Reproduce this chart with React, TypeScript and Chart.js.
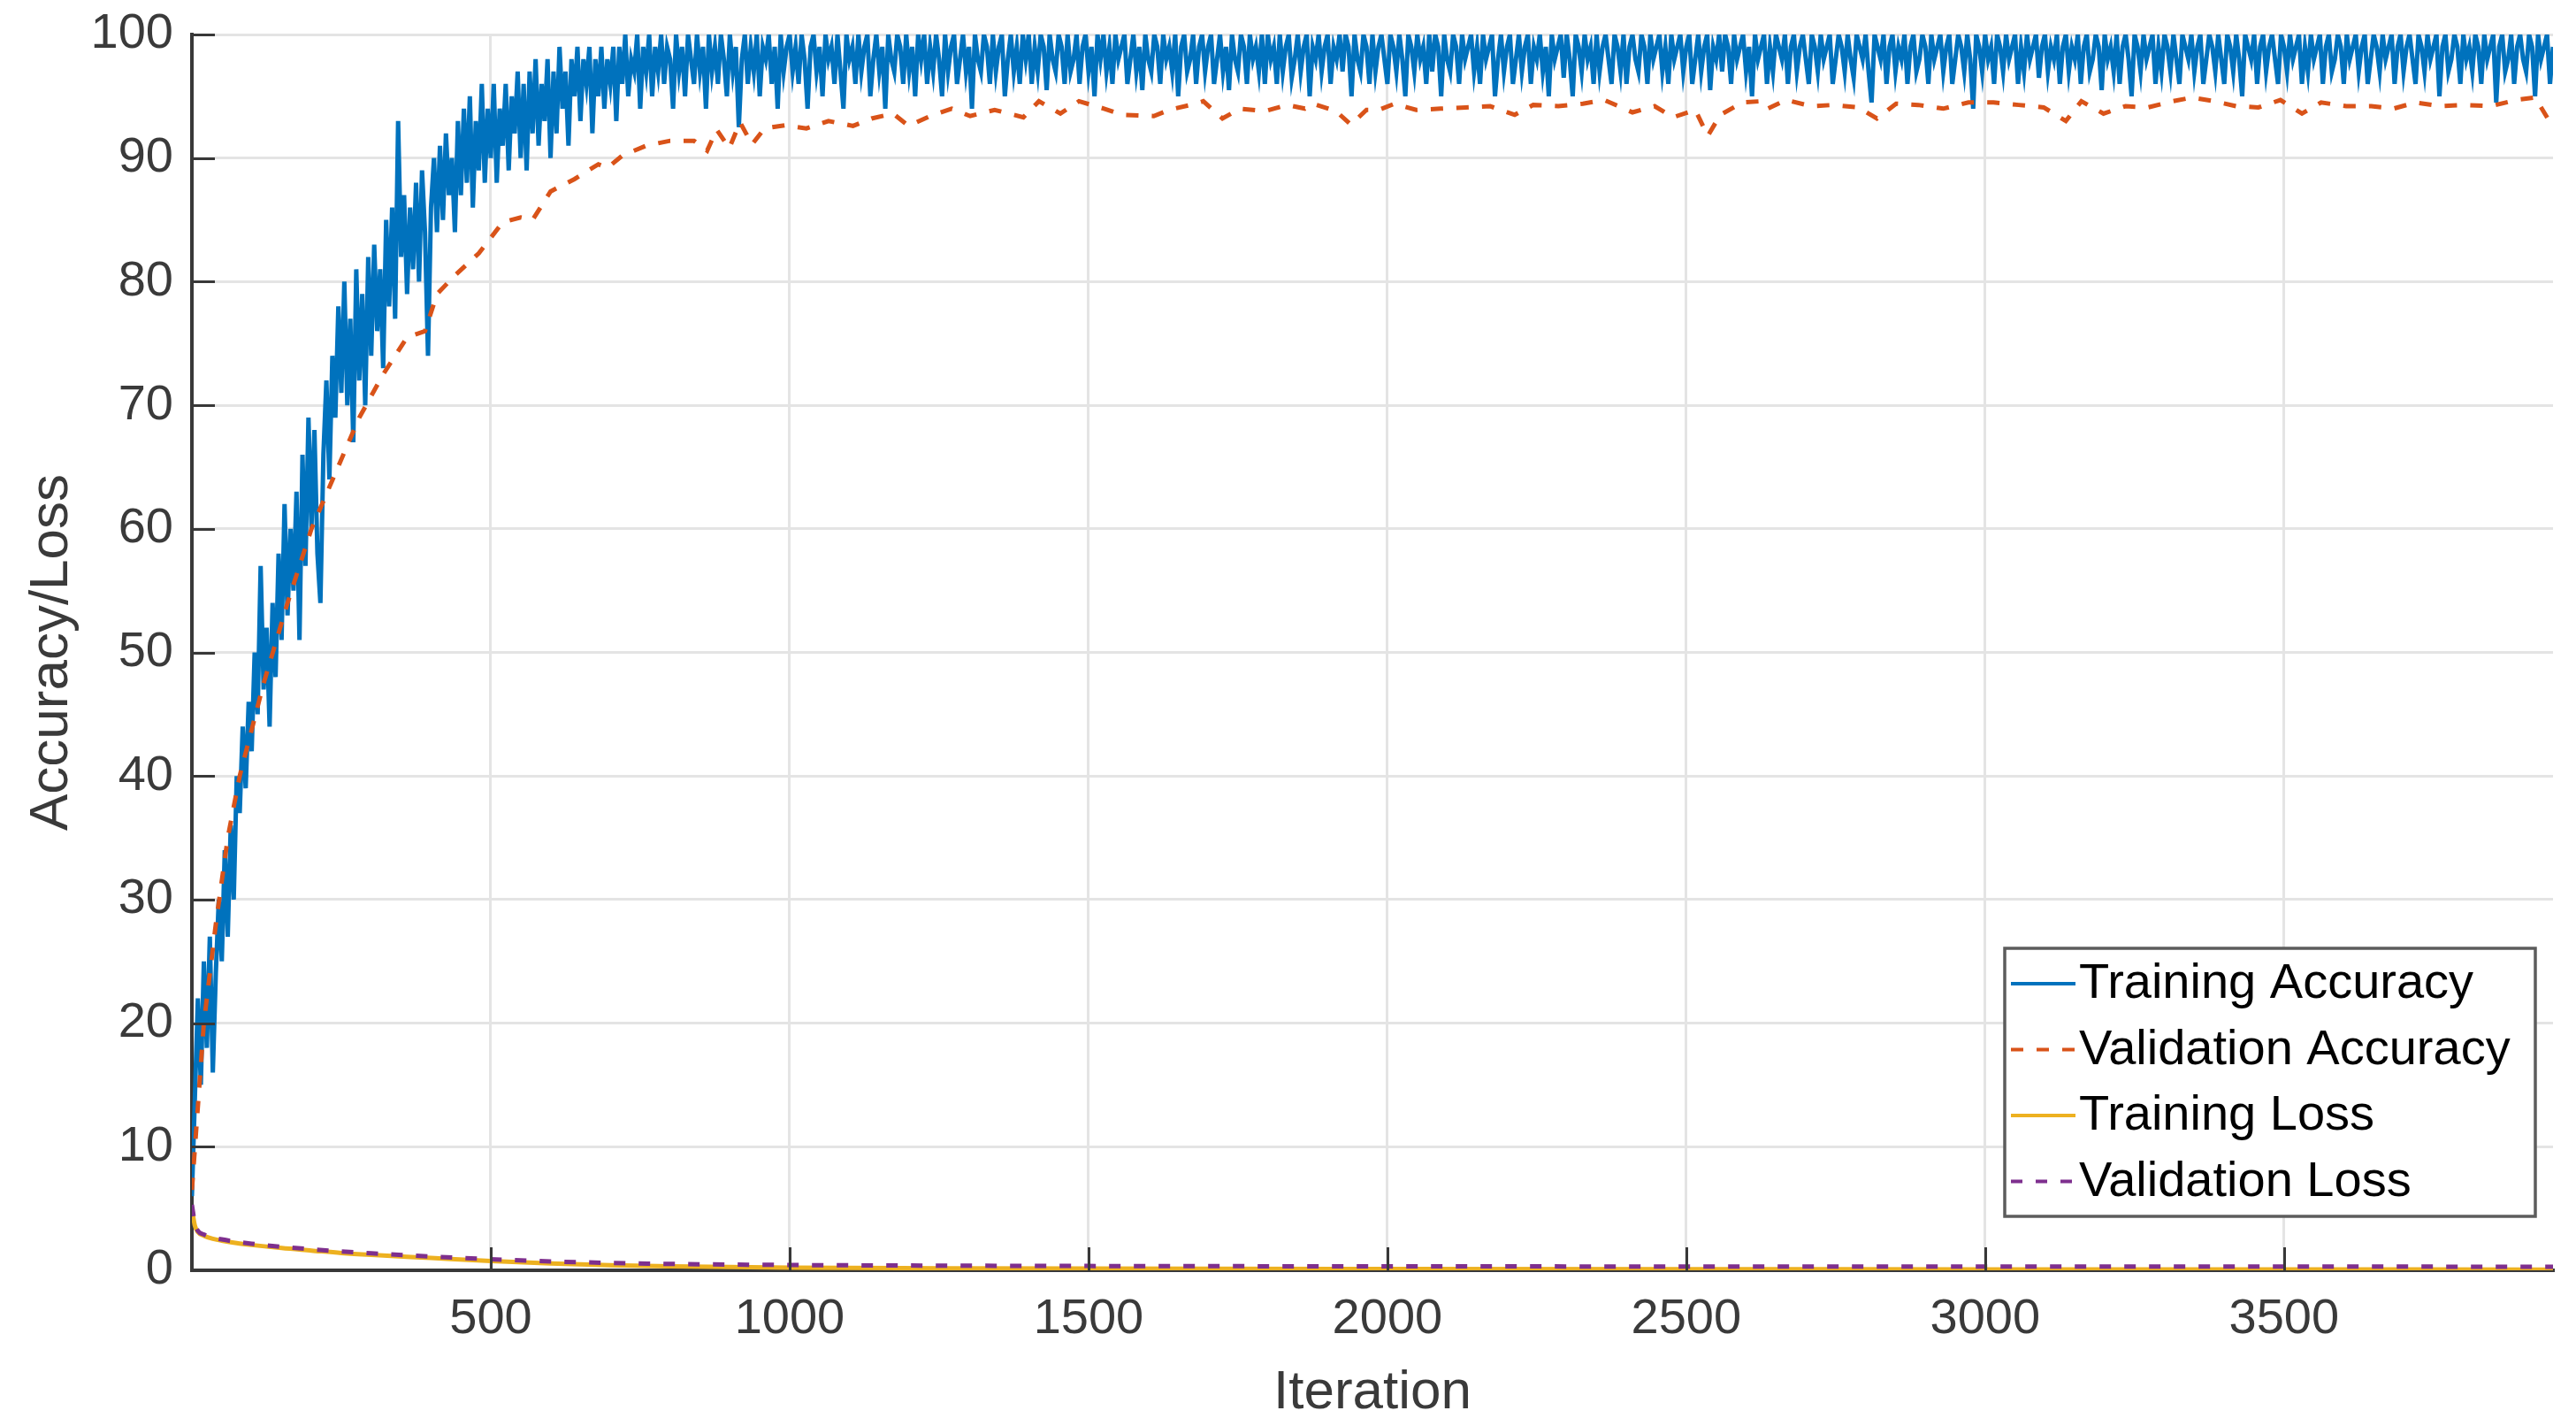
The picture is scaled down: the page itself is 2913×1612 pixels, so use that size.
import React, { useEffect, useRef } from 'react';
import { Chart, registerables } from 'chart.js';

Chart.register(...registerables);

// ---------------- data ----------------
const TRAIN_STEP = 5; // training accuracy sampled every 5 iterations
const trainAccuracy = [
  // 0 - 995
  6, 14, 22, 15, 25, 18, 27, 16, 24, 30, 25, 34, 27, 36, 30, 40, 37, 44, 39, 46,
  42, 50, 45, 57, 47, 52, 44, 54, 48, 58, 51, 62, 53, 60, 55, 63, 51, 66, 57, 69,
  60, 68, 58, 54, 66, 72, 64, 74, 69, 78, 71, 80, 70, 77, 67, 81, 72, 79, 70, 82,
  74, 83, 76, 81, 73, 85, 78, 86, 77, 93, 82, 87, 79, 86, 81, 88, 80, 89, 84, 74,
  86, 90, 84, 91, 85, 92, 87, 90, 84, 93, 87, 94, 88, 95, 86, 93, 89, 96, 88, 94,
  90, 96, 88, 94, 91, 96, 89, 95, 92, 97, 90, 96, 89, 97, 92, 98, 91, 96, 93, 98,
  90, 97, 92, 99, 94, 97, 91, 98, 95, 99, 93, 98, 96, 99, 92, 98, 95, 99, 94, 98,
  96, 99, 93, 99, 96, 100, 95, 98, 97, 100, 94, 99, 97, 100, 95, 99, 97, 100, 96, 99,
  98, 94, 100, 97, 99, 95, 100, 98, 96, 100, 97, 99, 94, 100, 97, 99, 96, 100, 98, 95,
  100, 97, 99, 92.5, 98, 100, 96, 99, 97, 100, 95, 99, 98, 100, 96, 99, 94, 100, 97, 99,
  // 1000 - 1995
  100, 97, 99, 96, 100, 98, 94, 99, 100, 97, 99, 95, 100, 98, 99, 96, 100, 97, 94, 100,
  98, 99, 96, 100, 97, 99, 100, 95, 98, 100, 97, 99, 94, 100, 98, 97, 100, 99, 96, 100,
  97, 99, 95, 100, 98, 100, 96, 99, 97, 100, 98, 95, 100, 97, 99, 100, 96, 98, 100, 97,
  99, 94, 100, 98, 97, 100, 99, 96, 100, 97, 99, 100, 95, 98, 100, 97, 99, 96, 100, 98,
  100, 96, 99, 97, 100, 99, 95.5, 100, 98, 97, 100, 99, 96, 100, 97, 98, 100, 96, 99, 100,
  97, 99, 95, 100, 98, 100, 97, 99, 96, 100, 98, 99, 100, 96, 98, 100, 97, 99, 95.5, 100,
  98, 97, 100, 99, 96, 100, 98, 99, 97, 100, 95, 99, 100, 97, 98, 100, 96, 99, 100, 97,
  99, 100, 96, 98, 100, 97, 99, 95.5, 100, 98, 97, 100, 99, 96, 100, 98, 99, 97, 100, 96,
  100, 98, 99, 96, 100, 97, 99, 100, 96.5, 98, 100, 97, 99, 100, 95, 99, 98, 100, 97, 99,
  100, 96, 99, 98, 100, 97, 100, 99, 95, 100, 98, 97, 100, 99, 96, 100, 97, 99, 100, 98,
  // 2000 - 2995
  96, 100, 99, 97, 100, 98, 95, 100, 99, 97, 100, 98, 99, 96, 100, 97, 100, 99, 95, 100,
  98, 97, 100, 99, 96, 100, 98, 99, 100, 97, 99, 96, 100, 98, 99, 100, 95, 98, 100, 97,
  99, 100, 96, 98, 100, 97, 99, 100, 96, 99, 98, 100, 97, 99, 95, 100, 98, 99, 100, 96.5,
  100, 98, 95, 100, 99, 97, 100, 98, 99, 96, 100, 97, 99, 100, 98, 96, 100, 99, 97, 100,
  96, 99, 100, 98, 97, 100, 99, 96, 100, 98, 99, 100, 97, 99, 96, 100, 98, 99, 100, 97,
  99, 100, 96, 98, 100, 97, 99, 100, 95.5, 99, 98, 100, 97, 100, 99, 96, 100, 98, 99, 100,
  97, 99, 95, 100, 98, 99, 100, 96, 99, 97, 100, 99, 98, 100, 96, 99, 100, 97, 99, 100,
  98, 96, 100, 99, 97, 100, 98, 99, 100, 96, 98, 100, 99, 97, 100, 98, 96.5, 100, 99, 98,
  100, 97, 94.5, 100, 99, 98, 100, 96, 99, 100, 97, 99, 98, 100, 96, 99, 100, 97, 98, 100,
  99, 96, 100, 98, 99, 100, 97, 99, 100, 96, 98, 100, 99, 97, 100, 98, 94, 100, 99, 97,
  // 3000 - 3950
  100, 98, 99, 96, 100, 99, 97, 100, 98, 99, 100, 96, 99, 97, 100, 98, 99, 100, 96.5, 99,
  100, 97, 99, 98, 100, 96, 99, 100, 97, 99, 98, 100, 96, 99, 100, 97, 98, 100, 99, 95.5,
  100, 98, 99, 97, 100, 96, 99, 100, 98, 95, 100, 99, 97, 100, 98, 99, 100, 96, 99, 97,
  100, 99, 97, 100, 98, 96, 100, 99, 98, 100, 97, 99, 100, 96, 98, 100, 99, 97, 100, 98,
  96, 100, 99, 97, 100, 98, 95, 100, 99, 98, 100, 96, 99, 100, 97, 99, 100, 98, 96, 100,
  99, 97, 100, 98, 99, 100, 96, 99, 97, 100, 98, 99, 100, 96, 99, 100, 97, 98, 100, 99,
  96, 100, 98, 99, 100, 97, 99, 100, 96, 98, 100, 99, 97, 100, 98, 99, 100, 96, 99, 100,
  97, 99, 100, 98, 96, 100, 99, 97, 100, 98, 99, 100, 95, 99, 100, 97, 98, 100, 99, 96,
  100, 98, 99, 97, 100, 99, 96, 100, 98, 99, 100, 94.5, 99, 100, 97, 98, 100, 96, 99, 100,
  98, 97, 100, 99, 95, 100, 98, 99, 100, 96, 99,
];

const valIterations = [
  0, 20, 40, 60, 80, 120, 160, 200, 240, 280, 320, 360, 390, 410, 440, 480, 520, 550, 570, 600,
  640, 680, 695, 720, 760, 800, 840, 862, 878, 899, 917, 937, 958, 992, 1028, 1065, 1106, 1137, 1173, 1199,
  1235, 1271, 1302, 1343, 1391, 1417, 1453, 1484, 1526, 1557, 1609, 1635, 1679, 1692, 1724, 1753, 1795, 1832, 1862, 1875,
  1914, 1939, 1965, 1986, 2012, 2048, 2089, 2131, 2172, 2213, 2244, 2286, 2327, 2363, 2410, 2447, 2478, 2515, 2536, 2557,
  2594, 2625, 2636, 2667, 2709, 2746, 2788, 2819, 2851, 2888, 2930, 2972, 3014, 3056, 3098, 3135, 3161, 3198, 3235, 3272,
  3314, 3346, 3383, 3420, 3457, 3494, 3530, 3562, 3604, 3646, 3683, 3720, 3762, 3804, 3846, 3888, 3920, 3950,
];
const valAccuracy = [
  6.5, 20, 28, 35, 40, 47.5, 54, 60, 64.5, 69, 72.5, 75.5, 76, 79, 80.5, 82.3, 84.8, 85.2, 85, 87.3,
  88.3, 89.5, 89.2, 90.2, 91, 91.4, 91.4, 90.6, 92.3, 90.8, 92.9, 91.1, 92.4, 92.65, 92.4, 93, 92.6, 93.2, 93.6, 92.6,
  93.4, 94, 93.4, 93.9, 93.3, 94.6, 93.6, 94.6, 94, 93.5, 93.4, 93.9, 94.4, 94.6, 93.2, 94, 93.8, 94.3, 94, 94.4,
  93.8, 92.7, 93.9, 93.9, 94.4, 93.9, 94, 94.1, 94.2, 93.5, 94.3, 94.2, 94.4, 94.7, 93.7, 94.2, 93.3, 93.9, 91.8, 93.5,
  94.5, 94.6, 94, 94.7, 94.2, 94.3, 94.1, 93.2, 94.4, 94.3, 94, 94.5, 94.5, 94.3, 94.1, 93, 94.6, 93.6, 94.2, 94.1,
  94.6, 94.9, 94.6, 94.2, 94.1, 94.7, 93.6, 94.5, 94.2, 94.2, 94, 94.5, 94.2, 94.3, 94.2, 94.7, 94.9, 92.5,
];

const lossIterations = [0, 5, 10, 20, 35, 50, 75, 100, 150, 200, 250, 300, 400, 500, 600, 700, 800, 1000, 1250, 1500, 2000, 2500, 3000, 3500, 3950];
const trainLoss = [5.0, 3.6, 3.1, 2.8, 2.55, 2.4, 2.2, 2.05, 1.8, 1.6, 1.4, 1.25, 1.0, 0.75, 0.55, 0.42, 0.33, 0.22, 0.17, 0.14, 0.11, 0.09, 0.08, 0.07, 0.06];
const valLoss = [5.3, 3.8, 3.2, 2.9, 2.65, 2.5, 2.3, 2.15, 1.9, 1.7, 1.52, 1.38, 1.12, 0.9, 0.72, 0.6, 0.52, 0.43, 0.38, 0.35, 0.32, 0.31, 0.3, 0.3, 0.29];

const xTickValues = [500, 1000, 1500, 2000, 2500, 3000, 3500];
const yTickValues = [0, 10, 20, 30, 40, 50, 60, 70, 80, 90, 100];
const seriesLabels = ['Training Accuracy', 'Validation Accuracy', 'Training Loss', 'Validation Loss'];
const xTitle = 'Iteration';
const yTitle = 'Accuracy/Loss';

// ---------------- styling ----------------
const FONT = "'Liberation Sans', Arial, sans-serif";
const AXIS_COLOR = '#383838';
const TEXT_COLOR = '#3a3a3a';
const GRID_COLOR = '#e4e4e4';

const innerTicksPlugin = {
  id: 'innerTicks',
  afterDraw(chart: any) {
    const { ctx, chartArea, scales } = chart;
    const len = 26;
    ctx.save();
    ctx.strokeStyle = AXIS_COLOR;
    ctx.lineWidth = 3;
    ctx.beginPath();
    yTickValues.forEach((v) => {
      const y = Math.round(scales.y.getPixelForValue(v)) + 0.5;
      ctx.moveTo(chartArea.left, y);
      ctx.lineTo(chartArea.left + len, y);
    });
    xTickValues.forEach((v) => {
      const x = Math.round(scales.x.getPixelForValue(v)) + 0.5;
      ctx.moveTo(x, chartArea.bottom);
      ctx.lineTo(x, chartArea.bottom - len);
    });
    ctx.stroke();
    ctx.restore();
  },
};

const legendPlugin = {
  id: 'matlabLegend',
  afterDraw(chart: any) {
    const { ctx, chartArea } = chart;
    const boxW = 600;
    const boxH = 303;
    const bx = chartArea.right - 20 - boxW;
    const by = chartArea.bottom - 61 - boxH;
    ctx.save();
    ctx.fillStyle = '#ffffff';
    ctx.fillRect(bx, by, boxW, boxH);
    ctx.strokeStyle = '#5c5c5c';
    ctx.lineWidth = 3.5;
    ctx.strokeRect(bx, by, boxW, boxH);
    chart.data.datasets.forEach((ds: any, i: number) => {
      const cy = by + 40 + i * 74.5;
      ctx.strokeStyle = ds.borderColor;
      ctx.lineWidth = Math.min(ds.borderWidth, 4);
      ctx.setLineDash(ds.borderDash || []);
      ctx.beginPath();
      ctx.moveTo(bx + 7, cy);
      ctx.lineTo(bx + 80, cy);
      ctx.stroke();
      ctx.setLineDash([]);
      ctx.fillStyle = '#000000';
      ctx.font = `56px ${FONT}`;
      ctx.textBaseline = 'middle';
      ctx.textAlign = 'left';
      ctx.fillText(ds.label, bx + 84, cy + 1);
    });
    ctx.restore();
  },
};

export default function App() {
  const canvasRef = useRef<HTMLCanvasElement | null>(null);

  useEffect(() => {
    if (!canvasRef.current) return;
    const trainPts = trainAccuracy.map((v, i) => ({ x: i * TRAIN_STEP, y: v }));
    const valPts = valIterations.map((it, i) => ({ x: it, y: valAccuracy[i] }));
    const tLossPts = lossIterations.map((it, i) => ({ x: it, y: trainLoss[i] }));
    const vLossPts = lossIterations.map((it, i) => ({ x: it, y: valLoss[i] }));

    const chart = new Chart(canvasRef.current, {
      type: 'line',
      data: {
        datasets: [
          {
            label: seriesLabels[0],
            data: trainPts,
            borderColor: '#0072BD',
            borderWidth: 5,
            borderJoinStyle: 'miter',
            pointRadius: 0,
            tension: 0,
            order: 4,
          },
          {
            label: seriesLabels[1],
            data: valPts,
            borderColor: '#D95319',
            borderWidth: 5,
            borderDash: [14, 15],
            pointRadius: 0,
            tension: 0,
            order: 3,
          },
          {
            label: seriesLabels[2],
            data: tLossPts,
            borderColor: '#EDB120',
            borderWidth: 5,
            pointRadius: 0,
            cubicInterpolationMode: 'monotone',
            order: 2,
          },
          {
            label: seriesLabels[3],
            data: vLossPts,
            borderColor: '#7E2F8E',
            borderWidth: 5,
            borderDash: [13, 15],
            pointRadius: 0,
            cubicInterpolationMode: 'monotone',
            order: 1,
          },
        ] as any,
      },
      options: {
        animation: false,
        responsive: false,
        devicePixelRatio: 1,
        parsing: false as any,
        normalized: true,
        events: [],
        layout: { padding: { top: 39, right: 26, left: 0, bottom: 0 } },
        plugins: {
          legend: { display: false },
          tooltip: { enabled: false },
        },
        scales: {
          x: {
            type: 'linear',
            min: 0,
            max: 3950,
            afterFit: (scale: any) => {
              scale.height = 176;
              scale.paddingLeft = 0;
              scale.paddingRight = 0;
            },
            afterBuildTicks: (scale: any) => {
              scale.ticks = xTickValues.map((v) => ({ value: v }));
            },
            ticks: {
              callback: (v: any) => String(v),
              font: { family: FONT, size: 56 },
              color: TEXT_COLOR,
              padding: 22,
              maxRotation: 0,
              autoSkip: false,
            },
            grid: { color: GRID_COLOR, lineWidth: 3, drawTicks: false },
            border: { display: true, color: AXIS_COLOR, width: 4 },
            title: {
              display: true,
              text: xTitle,
              font: { family: FONT, size: 62 },
              color: TEXT_COLOR,
              padding: { top: 0, bottom: 0 },
            },
          },
          y: {
            type: 'linear',
            min: 0,
            max: 100,
            afterFit: (scale: any) => {
              scale.width = 217;
              scale.paddingTop = 0;
              scale.paddingBottom = 0;
            },
            afterBuildTicks: (scale: any) => {
              scale.ticks = yTickValues.map((v) => ({ value: v }));
            },
            ticks: {
              callback: (v: any) => String(v),
              font: { family: FONT, size: 56 },
              color: TEXT_COLOR,
              padding: 21,
              autoSkip: false,
            },
            grid: { color: GRID_COLOR, lineWidth: 3, drawTicks: false },
            border: { display: true, color: AXIS_COLOR, width: 4 },
            title: {
              display: true,
              text: yTitle,
              font: { family: FONT, size: 62 },
              color: TEXT_COLOR,
              padding: { top: 22, bottom: 0 },
            },
          },
        },
      },
      plugins: [innerTicksPlugin, legendPlugin],
    } as any);

    return () => chart.destroy();
  }, []);

  return (
    <div style={{ position: 'fixed', left: 0, top: 0, width: 2913, height: 1612, background: '#ffffff' }}>
      <canvas ref={canvasRef} width={2913} height={1612} style={{ width: 2913, height: 1612, display: 'block' }} />
    </div>
  );
}
